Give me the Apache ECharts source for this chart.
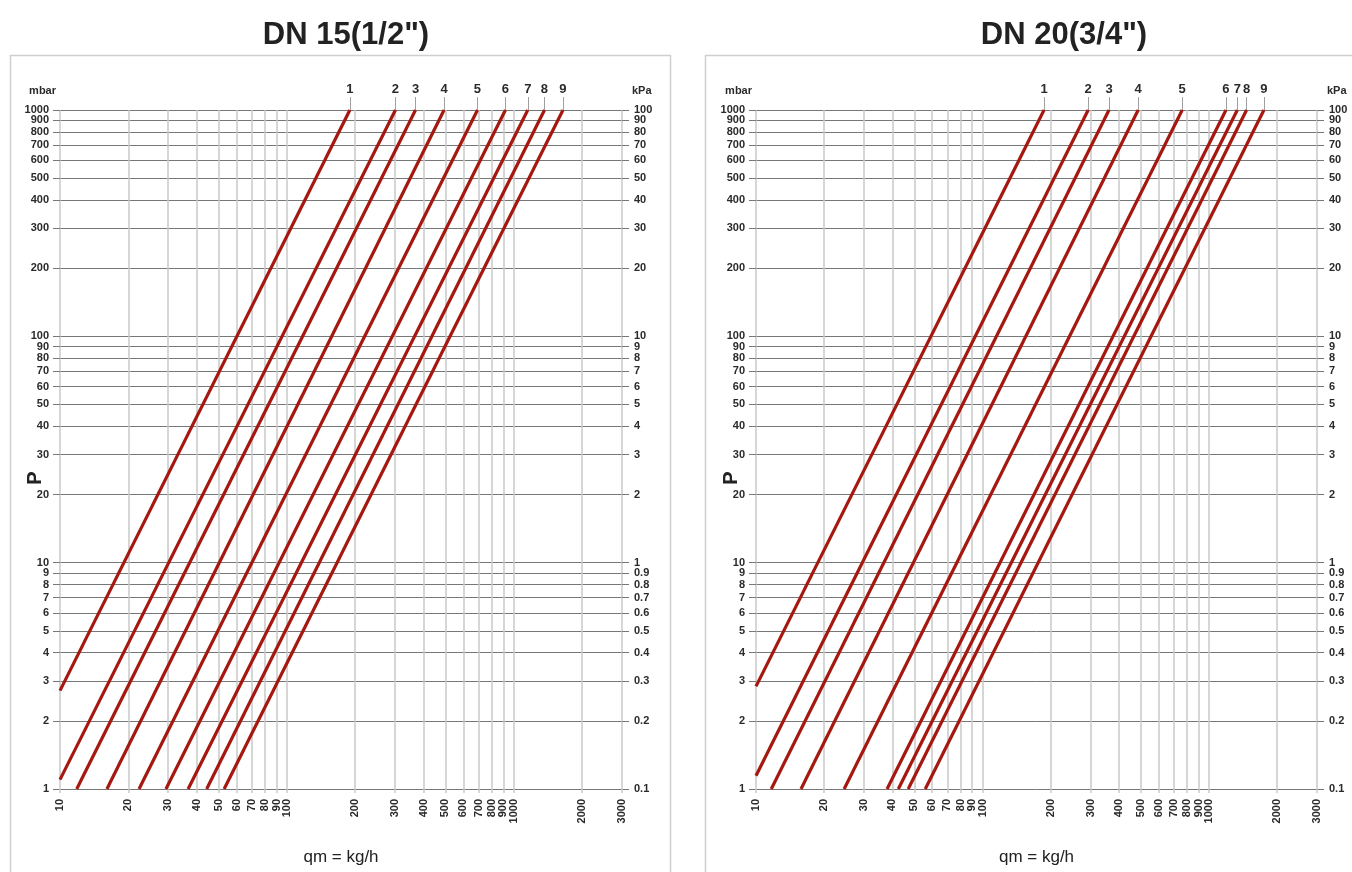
<!DOCTYPE html>
<html>
<head>
<meta charset="utf-8">
<script src="https://cdn.jsdelivr.net/npm/echarts@6/dist/echarts.min.js"></script>
<style>
html,body{margin:0;padding:0;background:#fff;}
#c{width:1352px;height:872px;}
</style>
</head>
<body>
<div id="c"></div>
<script>
// ---- Data ----
const lineNames = ['1','2','3','4','5','6','7','8','9'];
// DN 15 (1/2")
const dn15QStart = [10, 10, 11.85, 16.1, 22.3, 29.3, 36.7, 44.3, 52.9];
const dn15PStart = [2.72, 1.10, 1, 1, 1, 1, 1, 1, 1];
const dn15QEnd   = [189.5, 301, 369, 493, 692, 919, 1153, 1366, 1648];
const dn15PEnd   = [1000, 1000, 1000, 1000, 1000, 1000, 1000, 1000, 1000];
// DN 20 (3/4")
const dn20QStart = [10, 10, 11.68, 15.8, 24.5, 37.9, 42.5, 47.0, 55.9];
const dn20PStart = [2.84, 1.145, 1, 1, 1, 1, 1, 1, 1];
const dn20QEnd   = [187, 293, 362, 487, 762, 1189, 1334, 1466, 1749];
const dn20PEnd   = [1000, 1000, 1000, 1000, 1000, 1000, 1000, 1000, 1000];
// Tick labels
const qTicks = [10,20,30,40,50,60,70,80,90,100,200,300,400,500,600,700,800,900,1000,2000,3000];
const mbarTicks = [1,2,3,4,5,6,7,8,9,10,20,30,40,50,60,70,80,90,100,200,300,400,500,600,700,800,900,1000];
const kpaTicks = [0.1,0.2,0.3,0.4,0.5,0.6,0.7,0.8,0.9,1,2,3,4,5,6,7,8,9,10,20,30,40,50,60,70,80,90,100];
const titles = ['DN 15(1/2")', 'DN 20(3/4")'];

// ---- Styling ----
const FONT = '"Liberation Sans Narrow", "Liberation Sans", Arial, sans-serif';
const RED = '#a5180f';
const HGRID = '#777777';
const VGRID = '#c9c9c9';
const LBL = {fontFamily: FONT, fontSize: 11, fontWeight: 'bold', color: '#2a2a2a'};

const grids = [
  {left: 60, top: 110, width: 562, height: 679},
  {left: 756, top: 110, width: 561, height: 679}
];

function nearestIndex(arr, v) {
  let best = -1, bd = Infinity;
  arr.forEach((a, i) => { const d = Math.abs(Math.log(a) - Math.log(v)); if (d < bd) { bd = d; best = i; } });
  return bd < 0.01 ? best : -1;
}
// Labels are split over two coincident axes (alternating ticks) so that
// ECharts' min/max overlap check never drops a tightly packed label.
const evenOf = arr => arr.filter((_, i) => i % 2 === 0);
const oddOf = arr => arr.filter((_, i) => i % 2 === 1);

const fmtMbar = v => String(Math.round(v));
const fmtKpa = v => (v < 0.95 ? (Math.round(v * 10) / 10).toFixed(1) : String(Math.round(v)));

const xAxes = [], yAxes = [], series = [];
const sets = [
  {qs: dn15QStart, ps: dn15PStart, qe: dn15QEnd, pe: dn15PEnd},
  {qs: dn20QStart, ps: dn20PStart, qe: dn20QEnd, pe: dn20PEnd}
];
// tiny headroom so the top tick survives floating-point rounding of the log extent
const EPS = 1 + 1e-7;

sets.forEach((s, g) => {
  // bottom x axis
  xAxes.push({
    type: 'log', logBase: 10, gridIndex: g, min: 10, max: 3000 * EPS, position: 'bottom',
    name: 'qm = kg/h', nameLocation: 'middle', nameGap: 60,
    nameTextStyle: {fontFamily: '"Liberation Sans", Arial, sans-serif', fontSize: 17, color: '#222'},
    axisLine: {show: false},
    axisTick: {show: true, customValues: qTicks, length: 4, lineStyle: {color: VGRID, width: 1.5}},
    axisLabel: {customValues: qTicks, rotate: 90, margin: 10, showMinLabel: true, showMaxLabel: true, ...LBL,
      formatter: v => String(Math.round(v))},
    splitLine: {show: true, lineStyle: {color: VGRID, width: 1.5}},
    minorTick: {show: false}, minorSplitLine: {show: false}
  });
  // top x axis: curve numbers
  xAxes.push({
    type: 'log', logBase: 10, gridIndex: g, min: 10, max: 3000 * EPS, position: 'top',
    axisLine: {show: false},
    axisTick: {show: true, customValues: s.qe, length: 13, lineStyle: {color: '#a0a0a0', width: 1}},
    axisLabel: {customValues: s.qe, margin: 14, fontFamily: FONT, fontSize: 13, fontWeight: 'bold', color: '#2a2a2a',
      formatter: v => { const i = nearestIndex(s.qe, v); return i >= 0 ? lineNames[i] : ''; }},
    splitLine: {show: false}
  });
  // left y axis (mbar): ticks, grid lines and even labels
  yAxes.push({
    type: 'log', logBase: 10, gridIndex: g, min: 1, max: 1000 * EPS, position: 'left',
    name: 'mbar', nameLocation: 'end', nameGap: 14,
    nameTextStyle: {fontFamily: FONT, fontSize: 11, fontWeight: 'bold', color: '#2a2a2a', align: 'right', padding: [0, 4, 0, 0]},
    axisLine: {show: false},
    axisTick: {show: true, customValues: mbarTicks, length: 7, lineStyle: {color: HGRID, width: 1}},
    axisLabel: {customValues: evenOf(mbarTicks), margin: 11, showMinLabel: true, showMaxLabel: true, ...LBL, formatter: fmtMbar},
    splitLine: {show: true, lineStyle: {color: HGRID, width: 1}}
  });
  // left y axis (mbar): odd labels only
  yAxes.push({
    type: 'log', logBase: 10, gridIndex: g, min: 1, max: 1000 * EPS, position: 'left',
    axisLine: {show: false}, axisTick: {show: false}, splitLine: {show: false},
    axisLabel: {customValues: oddOf(mbarTicks), margin: 11, showMinLabel: true, showMaxLabel: true, ...LBL, formatter: fmtMbar}
  });
  // right y axis (kPa): ticks and even labels
  yAxes.push({
    type: 'log', logBase: 10, gridIndex: g, min: 0.1, max: 100 * EPS, position: 'right',
    name: 'kPa', nameLocation: 'end', nameGap: 14,
    nameTextStyle: {fontFamily: FONT, fontSize: 11, fontWeight: 'bold', color: '#2a2a2a', align: 'left', padding: [0, 0, 0, 10]},
    axisLine: {show: false},
    axisTick: {show: true, customValues: kpaTicks, length: 7, lineStyle: {color: HGRID, width: 1}},
    axisLabel: {customValues: evenOf(kpaTicks), margin: 12, showMinLabel: true, showMaxLabel: true, ...LBL, formatter: fmtKpa},
    splitLine: {show: false}
  });
  // right y axis (kPa): odd labels only
  yAxes.push({
    type: 'log', logBase: 10, gridIndex: g, min: 0.1, max: 100 * EPS, position: 'right',
    axisLine: {show: false}, axisTick: {show: false}, splitLine: {show: false},
    axisLabel: {customValues: oddOf(kpaTicks), margin: 12, showMinLabel: true, showMaxLabel: true, ...LBL, formatter: fmtKpa}
  });
  s.qs.forEach((q, i) => {
    series.push({
      type: 'line', name: titles[g] + ' ' + lineNames[i],
      xAxisIndex: g * 2, yAxisIndex: g * 4,
      data: [[q, s.ps[i]], [s.qe[i], s.pe[i]]],
      symbol: 'none', silent: true, clip: false,
      lineStyle: {color: RED, width: 3.2}
    });
  });
});

const chart = echarts.init(document.getElementById('c'), null, {renderer: 'canvas'});
const TITLE_STYLE = {fontFamily: '"Liberation Sans", Arial, sans-serif', fontSize: 31, fontWeight: 'bold', color: '#222'};
chart.setOption({
  animation: false,
  backgroundColor: '#fff',
  title: [
    {text: titles[0], left: 341, top: 15, textAlign: 'center', textStyle: TITLE_STYLE},
    {text: titles[1], left: 1059, top: 15, textAlign: 'center', textStyle: TITLE_STYLE}
  ],
  grid: grids,
  xAxis: xAxes,
  yAxis: yAxes,
  series: series,
  graphic: [
    {type: 'rect', shape: {x: 10.5, y: 55.5, width: 660, height: 840}, style: {fill: 'none', stroke: '#cfcfcf', lineWidth: 1.5}, silent: true, z: -1},
    {type: 'rect', shape: {x: 705.5, y: 55.5, width: 700, height: 840}, style: {fill: 'none', stroke: '#cfcfcf', lineWidth: 1.5}, silent: true, z: -1},
    {type: 'text', x: 35, y: 478, rotation: Math.PI / 2,
     style: {text: 'P', fontFamily: '"Liberation Sans", Arial, sans-serif', fontSize: 20, fontWeight: 'bold', fill: '#222', align: 'center', verticalAlign: 'middle'}},
    {type: 'text', x: 731, y: 478, rotation: Math.PI / 2,
     style: {text: 'P', fontFamily: '"Liberation Sans", Arial, sans-serif', fontSize: 20, fontWeight: 'bold', fill: '#222', align: 'center', verticalAlign: 'middle'}}
  ]
});
</script>
</body>
</html>
